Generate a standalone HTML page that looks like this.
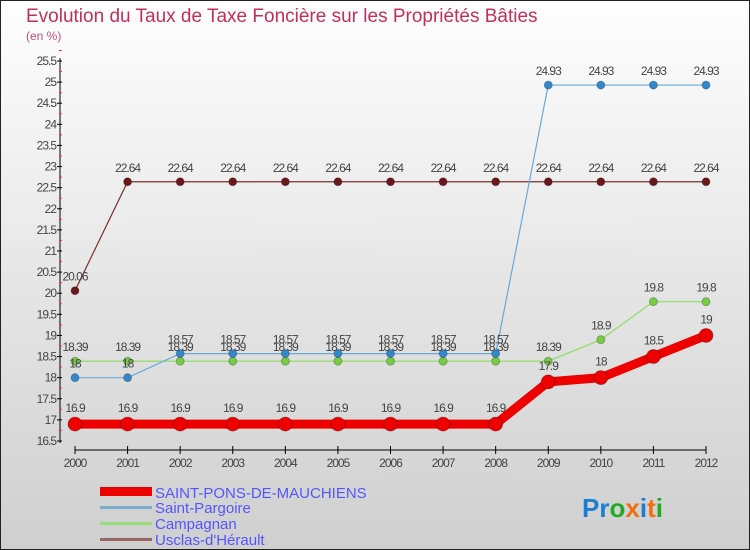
<!DOCTYPE html>
<html><head><meta charset="utf-8"><style>
body{margin:0}
#c{width:748px;height:548px;border:1px solid #222;background:linear-gradient(#fefefe,#cfcfcf);position:relative;overflow:hidden;font-family:"Liberation Sans",sans-serif}
</style></head><body>
<div id="c">
<svg width="748" height="548" id="s" style="position:absolute;left:-1px;top:-1px;overflow:visible">
<text x="26" y="22" font-size="19" fill="#c0305a">Evolution du Taux de Taxe Foncière sur les Propriétés Bâties</text>
<text x="26" y="40" font-size="12" fill="#c0507a">(en %)</text>
<g id="axes"></g><g id="series"></g>
<g>
<rect x="100" y="487" width="52" height="9" fill="#e00"/>
<text x="155" y="498" font-size="15" fill="#55f">SAINT-PONS-DE-MAUCHIENS</text>
<rect x="100" y="506" width="52" height="3" fill="#7aaacc"/>
<text x="155" y="513" font-size="15" fill="#55f">Saint-Pargoire</text>
<rect x="100" y="522" width="52" height="3" fill="#99dd77"/>
<text x="155" y="529" font-size="15" fill="#55f">Campagnan</text>
<rect x="100" y="538" width="52" height="3" fill="#996666"/>
<text x="155" y="545" font-size="15" fill="#55f">Usclas-d'Hérault</text>
</g>
<text x="582" y="517" font-size="26" font-weight="bold"><tspan fill="#1a7fd0">Pr</tspan><tspan fill="#2a2">o</tspan><tspan fill="#f07010">x</tspan><tspan fill="#1a7fd0">i</tspan><tspan fill="#f07010">t</tspan><tspan fill="#2a2">i</tspan></text>
</svg>
</div>
<script>
const years=[2000,2001,2002,2003,2004,2005,2006,2007,2008,2009,2010,2011,2012];
const saintPons=[16.9,16.9,16.9,16.9,16.9,16.9,16.9,16.9,16.9,17.9,18,18.5,19];
const saintPargoire=[18,18,18.57,18.57,18.57,18.57,18.57,18.57,18.57,24.93,24.93,24.93,24.93];
const campagnan=[18.39,18.39,18.39,18.39,18.39,18.39,18.39,18.39,18.39,18.39,18.9,19.8,19.8];
const usclas=[20.06,22.64,22.64,22.64,22.64,22.64,22.64,22.64,22.64,22.64,22.64,22.64,22.64];
const yTicks=[16.5,17,17.5,18,18.5,19,19.5,20,20.5,21,21.5,22,22.5,23,23.5,24,24.5,25,25.5];
const NS="http://www.w3.org/2000/svg";
const X=i=>75+i*(706-75)/12;
const Y=v=>441-(v-16.5)*(441-61)/9;
function mk(t,a,p){const e=document.createElementNS(NS,t);for(const k in a)e.setAttribute(k,a[k]);p.appendChild(e);return e;}
const ax=document.getElementById('axes');
let l=mk('line',{x1:60,y1:58,x2:60,y2:443,stroke:'#000','stroke-width':1},ax);


yTicks.forEach(v=>{mk('line',{x1:57,x2:62,y1:Y(v),y2:Y(v),stroke:'#000'},ax);
 mk('line',{x1:59,x2:62,y1:Y(v+0.25),y2:Y(v+0.25),stroke:'#e33'},ax);
 const t=mk('text',{x:56,y:Y(v)+4,'font-size':12,'text-anchor':'end',fill:'#444','letter-spacing':'-1'},ax);t.textContent=v;
 
 });
l=mk('line',{x1:75,y1:450,x2:706,y2:450,stroke:'#000'},ax);


years.forEach((y,i)=>{mk('line',{x1:X(i),x2:X(i),y1:446,y2:454,stroke:'#000'},ax);
 const t=mk('text',{x:X(i),y:467,'font-size':12,'text-anchor':'middle',fill:'#444','letter-spacing':'-1'},ax);t.textContent=y;
 
 });
const sg=document.getElementById('series');
function draw(vals,col,dot,w,r,name,off){
 const g=mk('g',{},sg);
 
 
 mk('polyline',{points:vals.map((v,i)=>X(i)+','+Y(v)).join(' '),fill:'none',stroke:col,'stroke-width':w},g);
 vals.forEach((v,i)=>{const c=mk('circle',{cx:X(i),cy:Y(v),r:r,fill:dot,stroke:'rgba(0,0,0,.25)'},g);
  
  
  const t=mk('text',{x:X(i),y:Y(v)-off,'font-size':12,'text-anchor':'middle',fill:'#444','letter-spacing':'-1'},g);t.textContent=v;
  
  });
}
draw(usclas,'#7a3030','#6a1818',1.2,4,'usclas',10);
draw(campagnan,'#9ddd7a','#77cc44',1.5,4,'campagnan',10);
draw(saintPargoire,'#6aa8d8','#3388cc',1.2,4,'saint-pargoire',10);
draw(saintPons,'#ee0000','#ee0000',9,7,'saint-pons',12);
</script>
</body></html>
